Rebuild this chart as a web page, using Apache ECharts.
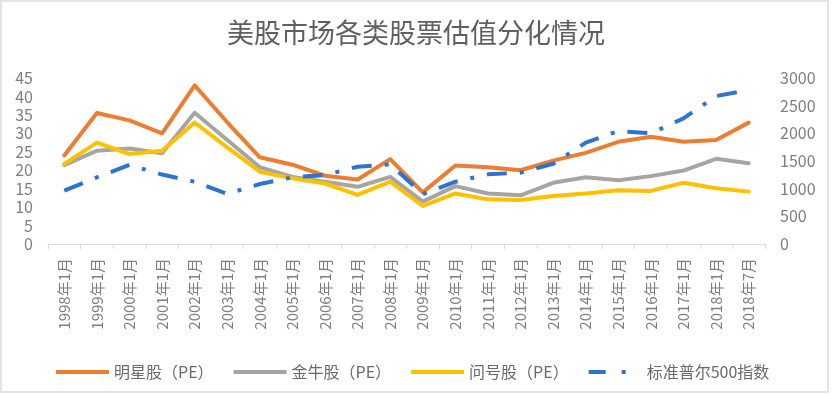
<!DOCTYPE html>
<html>
<head>
<meta charset="utf-8">
<script src="https://cdn.jsdelivr.net/npm/echarts@6/dist/echarts.min.js"></script>
<style>
html,body{margin:0;padding:0;background:#fff;}
#wrap{position:relative;width:832px;height:394px;}
#chart{position:absolute;left:0;top:0;width:832px;height:394px;}
#frame{position:absolute;left:0;top:0;width:825px;height:389px;border:2px solid #e4e4e4;pointer-events:none;}
</style>
</head>
<body>
<div id="wrap"><div id="chart"></div><div id="frame"></div></div>
<script>
const titleText = '美股市场各类股票估值分化情况';
const categories = ['1998年1月','1999年1月','2000年1月','2001年1月','2002年1月','2003年1月','2004年1月','2005年1月','2006年1月','2007年1月','2008年1月','2009年1月','2010年1月','2011年1月','2012年1月','2013年1月','2014年1月','2015年1月','2016年1月','2017年1月','2018年1月','2018年7月'];
const seriesNames = ['明星股（PE）','金牛股（PE）','问号股（PE）','标准普尔500指数'];
const starPE   = [24, 35.5, 33.5, 30, 43, 33, 23.5, 21.5, 18.5, 17.5, 23, 14, 21.3, 20.8, 20, 22.6, 24.7, 27.7, 29.1, 27.7, 28.2, 32.9];
const cashPE   = [21.4, 25.3, 25.9, 24.6, 35.6, 28.2, 20.8, 18.2, 16.9, 15.5, 18.2, 11.5, 15.7, 13.7, 13.2, 16.6, 18.1, 17.3, 18.4, 19.9, 23.1, 21.9];
const questPE  = [21.7, 27.5, 24.4, 25.3, 32.9, 26.2, 19.6, 17.8, 16.4, 13.3, 16.9, 10.3, 13.7, 12.1, 11.9, 13.0, 13.7, 14.6, 14.4, 16.6, 15.1, 14.2];
const sp500    = [965, 1205, 1430, 1255, 1126, 905, 1085, 1205, 1247, 1397, 1440, 900, 1126, 1259, 1289, 1451, 1831, 2042, 2000, 2271, 2674, 2780];
const leftAxis  = {min: 0, max: 45, interval: 5};
const rightAxis = {min: 0, max: 3000, interval: 500};

const FONT = '"Noto Sans CJK SC", "Noto Sans", sans-serif';
const colors = ['#ED7D31', '#A5A5A5', '#FFC000', '#2E72D2'];
const chart = echarts.init(document.getElementById('chart'));
const lineSeries = (name, data, color, yIdx, extra) => Object.assign({
  name: name, type: 'line', data: data, yAxisIndex: yIdx,
  symbol: 'none', smooth: false, animation: false,
  lineStyle: {color: color, width: 4, cap: 'round', join: 'round'},
  itemStyle: {color: color}
}, extra || {});

const dashDotIcon = 'path://M0,0H17V4H0Z M33,0H37V4H33Z M52.9,0H53V0.05H52.9Z';

chart.setOption({
  animation: false,
  textStyle: {fontFamily: FONT},
  title: {
    text: titleText, left: 'center', top: 19, padding: 0,
    textStyle: {fontFamily: FONT, fontSize: 27, fontWeight: 'normal', color: '#5f5f5f'}
  },
  legend: {
    left: 56, top: 364, itemWidth: 53, itemHeight: 4, itemGap: 20, padding: 0,
    textStyle: {fontFamily: FONT, fontSize: 16, color: '#6a6a6a'},
    data: [
      {name: seriesNames[0], icon: 'rect'},
      {name: seriesNames[1], icon: 'rect'},
      {name: seriesNames[2], icon: 'rect'},
      {name: seriesNames[3], icon: dashDotIcon}
    ]
  },
  grid: {left: 48, right: 67, top: 78, bottom: 150, containLabel: false},
  xAxis: {
    type: 'category', data: categories, boundaryGap: true,
    axisLine: {lineStyle: {color: '#d9d9d9', width: 1}},
    axisTick: {show: true, length: 5, lineStyle: {color: '#d9d9d9'}},
    axisLabel: {rotate: 90, interval: 0, margin: 14, fontSize: 15, color: '#7f7f7f', fontFamily: FONT},
    splitLine: {show: false}
  },
  yAxis: [
    {type: 'value', min: leftAxis.min, max: leftAxis.max, interval: leftAxis.interval,
     axisLine: {show: false}, axisTick: {show: false}, splitLine: {show: false},
     axisLabel: {margin: 15, fontSize: 16, color: '#7f7f7f', fontFamily: FONT}},
    {type: 'value', min: rightAxis.min, max: rightAxis.max, interval: rightAxis.interval, position: 'right',
     axisLine: {show: false}, axisTick: {show: false}, splitLine: {show: false},
     axisLabel: {margin: 15, fontSize: 16, color: '#7f7f7f', fontFamily: FONT, formatter: v => String(v)}}
  ],
  series: [
    lineSeries(seriesNames[0], starPE, colors[0], 0),
    lineSeries(seriesNames[1], cashPE, colors[1], 0),
    lineSeries(seriesNames[2], questPE, colors[2], 0),
    lineSeries(seriesNames[3], sp500, colors[3], 1, {
      lineStyle: {color: colors[3], width: 4, type: [20, 13, 4, 13], cap: 'butt', join: 'round'}
    })
  ]
});
</script>
</body>
</html>
